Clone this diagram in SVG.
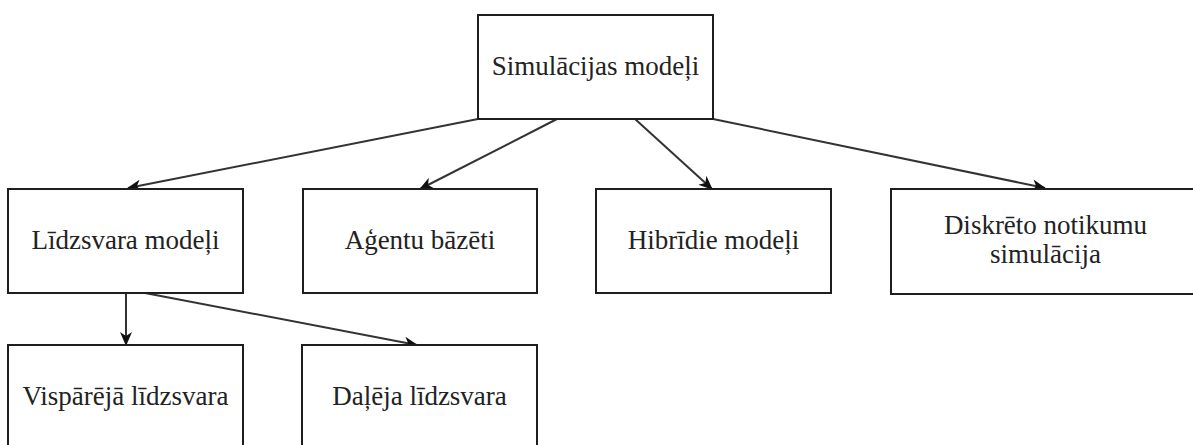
<svg xmlns="http://www.w3.org/2000/svg" width="1193" height="445" viewBox="0 0 1193 445">
<style>
.box{fill:#fff;stroke:#1e1e1e;stroke-width:2}
.lbl{font-family:"Liberation Serif","Times New Roman",serif;font-size:27px;fill:#222;text-anchor:middle}
.edge{stroke:#333;stroke-width:2;fill:none}
</style>
<defs>
<marker id="arr" viewBox="0 0 14 12" refX="13" refY="6" markerWidth="14" markerHeight="12" markerUnits="userSpaceOnUse" orient="auto">
<path d="M0,0 L14,6 L0,12 L4,6 Z" fill="#111"/>
</marker>
</defs>
<rect width="1193" height="445" fill="#fff"/>
<g id="connectors">
<line class="edge" x1="478" y1="119" x2="128" y2="188" marker-end="url(#arr)"/>
<line class="edge" x1="557" y1="119" x2="420" y2="189" marker-end="url(#arr)"/>
<line class="edge" x1="635" y1="119" x2="712" y2="189" marker-end="url(#arr)"/>
<line class="edge" x1="713" y1="119" x2="1045" y2="188" marker-end="url(#arr)"/>
<line class="edge" x1="126" y1="293" x2="126" y2="345" marker-end="url(#arr)"/>
<line class="edge" x1="145" y1="293" x2="417" y2="345" marker-end="url(#arr)"/>
</g>
<g id="n-sim">
<rect class="box" x="478" y="15" width="235" height="104"/>
<text class="lbl" x="595.5" y="75">Simulācijas modeļi</text>
</g>
<g id="n-lidz">
<rect class="box" x="8" y="189" width="235" height="104"/>
<text class="lbl" x="125.5" y="249">Līdzsvara modeļi</text>
</g>
<g id="n-agent">
<rect class="box" x="303" y="189" width="234" height="104"/>
<text class="lbl" x="420" y="249">Aģentu bāzēti</text>
</g>
<g id="n-hibr">
<rect class="box" x="596" y="189" width="235" height="104"/>
<text class="lbl" x="713.5" y="249">Hibrīdie modeļi</text>
</g>
<g id="n-diskr">
<rect class="box" x="891" y="189" width="309" height="105"/>
<text class="lbl" x="1045.5" y="234">Diskrēto notikumu</text>
<text class="lbl" x="1045.5" y="263">simulācija</text>
</g>
<g id="n-visp">
<rect class="box" x="8" y="345" width="235" height="110"/>
<text class="lbl" x="125.5" y="405">Vispārējā līdzsvara</text>
</g>
<g id="n-dalej">
<rect class="box" x="302" y="345" width="235" height="110"/>
<text class="lbl" x="419.5" y="405">Daļēja līdzsvara</text>
</g>
</svg>
